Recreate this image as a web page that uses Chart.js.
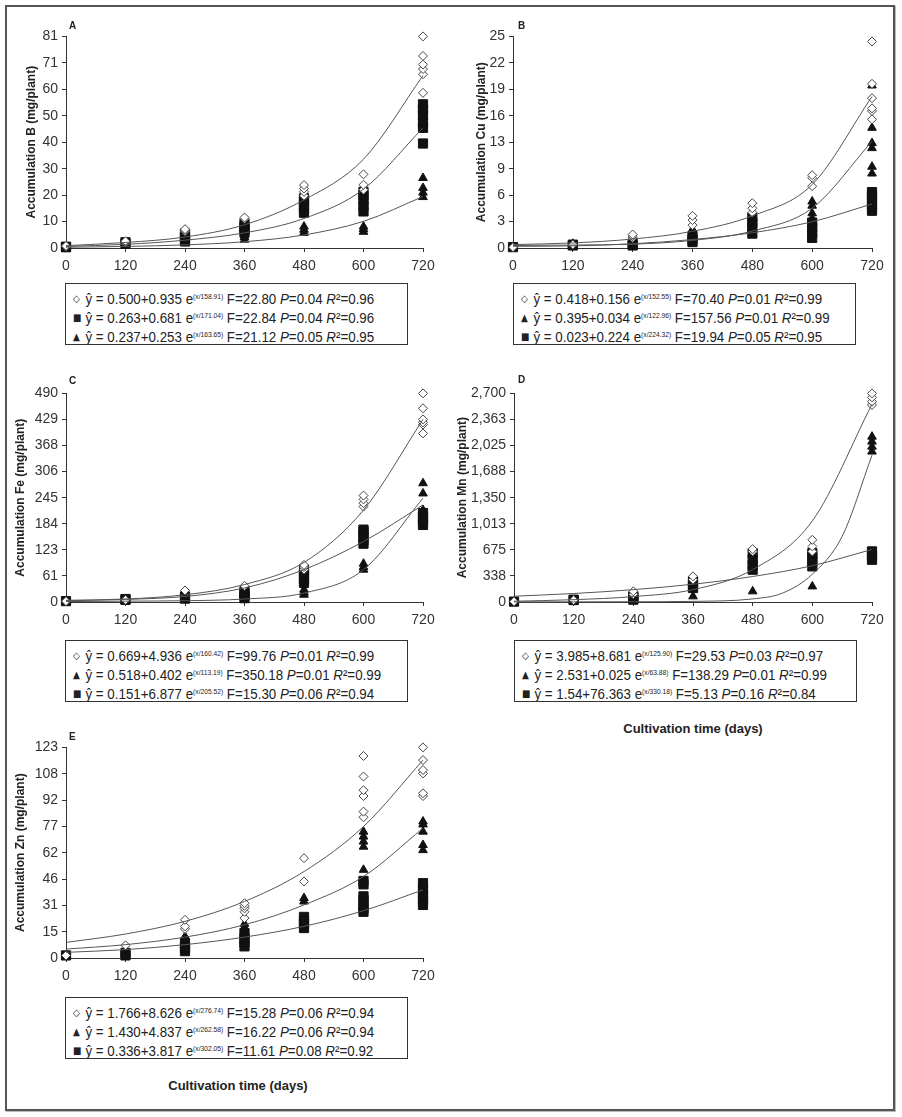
<!DOCTYPE html>
<html lang="en">
<head>
<meta charset="UTF-8">
<title>Micronutrient accumulation</title>
<script src="https://cdn.jsdelivr.net/npm/chart.js"></script>
<style>
  body { margin: 0; background: #fff; }
  #page { position: relative; width: 902px; height: 1117px; overflow: hidden;
          font-family: 'Liberation Sans Narrow', 'Arial Narrow', 'Liberation Sans', Arial, sans-serif; color: #222; }
  .frame { position: absolute; left: 5px; top: 5px; width: 886px; height: 1102px;
           border: 2px solid #555; box-shadow: 1px 1px 0 #bbb; }
  canvas { position: absolute; }
  .tag { position: absolute; font: bold 10px 'Liberation Sans', Arial, sans-serif; }
  .eq { position: absolute; width: 343px; height: 62px; border: 1px solid #333; background: #fff;
        box-sizing: border-box; padding: 4px 0 0 7px; white-space: nowrap; overflow: hidden; }
  .eq .in { transform: scaleX(0.89); transform-origin: 0 0; font-size: 15px; line-height: 17px; }
  .eq sup { font-size: 7.5px; vertical-align: 5px; }
  .eq .m { display: inline-block; width: 14px; font: 10px 'DejaVu Sans', sans-serif; vertical-align: 2px; }
  .xt { position: absolute; font-weight: bold; font-size: 13px; text-align: center; width: 200px; }
</style>
</head>
<body>
<div id="page">
  <div class="frame"></div>
  <canvas id="cA"></canvas><canvas id="cB"></canvas><canvas id="cC"></canvas>
  <canvas id="cD"></canvas><canvas id="cE"></canvas>
  <div class="tag" style="left:69px;top:20px">A</div>
  <div class="tag" style="left:518px;top:20px">B</div>
  <div class="tag" style="left:69px;top:375px">C</div>
  <div class="tag" style="left:518px;top:374px">D</div>
  <div class="tag" style="left:69px;top:731px">E</div>
  <div class="eq" id="eqA" style="left:65px;top:283px"></div>
  <div class="eq" id="eqB" style="left:513px;top:283px"></div>
  <div class="eq" id="eqC" style="left:65px;top:640px"></div>
  <div class="eq" id="eqD" style="left:514px;top:640px"></div>
  <div class="eq" id="eqE" style="left:65px;top:997px"></div>
  <div class="xt" style="left:593px;top:721px">Cultivation time (days)</div>
  <div class="xt" style="left:138px;top:1078px">Cultivation time (days)</div>
</div>
<script>
// sampling days (x axis)
const days = [0, 120, 240, 360, 480, 600, 720];
const daysDense = [0, 120, 240, 360, 480, 540, 600, 660, 720];

// A - Boron: replicate values per day
const bDiamond = [[0.6, 0.8], [2.2, 2.6], [6.3, 6.8, 7.2], [11.2, 11.7], [20, 21.5, 22.8, 24.1], [22.3, 24.2, 28.2], [59.4, 66.5, 68.5, 70.2, 73.5, 81]];
const bSquare = [[0.3, 0.5], [1.6, 2.2], [2.5, 3.5, 4.5, 5.5], [6, 7, 8, 9.3], [13.5, 15, 16.5, 18, 19], [14, 16, 18, 20, 21.5], [40, 46, 48, 51, 53, 55]];
const bTriangle = [[0.2], [1.4], [2.8], [3.2, 4.2, 5], [5.8, 7, 8.2], [6.2, 7.2, 8.2], [19.5, 21.2, 23, 26.8]];
const bFitDiamond = [0.9, 2.1, 4.2, 8.9, 18.4, 34, 66];
const bFitSquare = [0.6, 1.4, 3, 5.8, 11.3, 22.5, 46];
const bFitTriangle = [0.3, 0.6, 1.2, 2.4, 5, 10.2, 19.7];
const bTicks = ['0', '10', '20', '30', '40', '50', '60', '71', '81'];

// B - Copper
const cuDiamond = [[0.1], [0.4], [1.2, 1.4, 1.6], [2.7, 3.3, 3.8], [4.2, 4.7, 5.3], [7.3, 8.3, 8.6], [15.2, 16.2, 16.5, 17.7, 19.4, 24.4]];
const cuTriangle = [[0.1], [0.5], [0.5], [1.6, 2.0, 2.2], [1.8, 2.2], [3.5, 4.1, 5.0, 5.5], [8.8, 9.6, 11.8, 12.4, 14.2, 19.2]];
const cuSquare = [[0.1], [0.3, 0.4], [0.3, 0.5], [0.7, 1.0, 1.4], [1.7, 2.4, 3.0, 3.6], [1.2, 1.8, 2.4, 3.0], [4.4, 5.0, 5.6, 6.2, 6.6]];
const cuFitDiamond = [0.4, 0.6, 1.06, 1.97, 3.8, 7.5, 17.9];
const cuFitTriangle = [0.3, 0.35, 0.45, 0.9, 2.0, 4.7, 12.6];
const cuFitSquare = [0.2, 0.25, 0.5, 1.0, 1.8, 3.1, 5.2];
const cuTicks = ['0', '3', '6', '9', '13', '16', '19', '22', '25'];

// C - Iron
const feDiamond = [[2], [5], [27], [38], [76, 82, 87], [224, 232, 241, 250], [396, 417, 422, 429, 455, 490]];
const feTriangle = [[1], [3], [5], [8], [17, 22, 29], [76, 82, 90], [205, 216, 255, 279]];
const feSquare = [[2], [5, 7], [8, 13], [9, 15, 20, 25], [45, 55, 65, 76], [137, 145, 155, 165, 170], [181, 190, 200, 209]];
const feFitDiamond = [4, 7, 17, 41, 93, 216, 429];
const feFitTriangle = [1, 2, 3, 7, 21, 76, 244];
const feFitSquare = [3, 6, 13, 33, 76, 142, 228];
const feTicks = ['0', '61', '123', '184', '245', '306', '368', '429', '490'];

// D - Manganese
const mnDiamond = [[5], [25], [100, 138], [289, 332], [655, 685], [655, 719, 805], [2550, 2593, 2649, 2700]];
const mnTriangle = [[3], [20], [30], [73], [138], [202], [1947, 2011, 2076, 2140]];
const mnSquare = [[5], [25, 30], [30, 60, 73], [181, 220, 267], [418, 480, 550, 633], [461, 520, 580, 633], [547, 600, 655]];
const mnFitDiamond = [10, 30, 70, 160, 420, 1050, 2560];
const mnFitTriangle = [2, 2, 3, 8, 40, 115, 360, 850, 1900];
const mnFitSquare = [75, 110, 160, 230, 330, 470, 680];
const mnTicks = ['0', '338', '675', '1,013', '1,350', '1,688', '2,025', '2,363', '2,700'];

// E - Zinc
const znDiamond = [[1.5], [7.4], [17, 18.5, 22.3], [23.3, 27, 29, 30.5, 32], [44.7, 58.3], [82.2, 85.5, 94.6, 98, 106, 118], [94.6, 96.2, 107.8, 109.8, 115.6, 123]];
const znTriangle = [[1.2], [5], [10, 12.6], [16.5, 18, 20], [33, 35], [51.5, 65, 68, 70.9, 73.8], [63, 66, 73.8, 78, 79.7]];
const znSquare = [[1.5], [1.5, 3], [4, 6, 8.7], [6.8, 9, 11.5, 14.6], [17.5, 20, 22, 24], [27, 29, 31, 34, 36, 43, 45], [31, 34, 37, 40, 43.7]];
const znFitDiamond = [9.1, 14, 21.4, 33, 50.5, 76.8, 115.6];
const znFitTriangle = [5.2, 7.8, 12.2, 19.4, 31, 47.6, 75.8];
const znFitSquare = [3.3, 4.9, 7.8, 12.2, 18.5, 27.6, 39.8];
const znTicks = ['0', '15', '31', '46', '62', '77', '92', '108', '123'];

// regression equations shown under each panel
const eqA = [
  ['◇', '0.500+0.935', 'x/158.91', '22.80', '0.04', '0.96'],
  ['■', '0.263+0.681', 'x/171.04', '22.84', '0.04', '0.96'],
  ['▲', '0.237+0.253', 'x/163.65', '21.12', '0.05', '0.95']];
const eqB = [
  ['◇', '0.418+0.156', 'x/152.55', '70.40', '0.01', '0.99'],
  ['▲', '0.395+0.034', 'x/122.96', '157.56', '0.01', '0.99'],
  ['■', '0.023+0.224', 'x/224.32', '19.94', '0.05', '0.95']];
const eqC = [
  ['◇', '0.669+4.936', 'x/160.42', '99.76', '0.01', '0.99'],
  ['▲', '0.518+0.402', 'x/113.19', '350.18', '0.01', '0.99'],
  ['■', '0.151+6.877', 'x/205.52', '15.30', '0.06', '0.94']];
const eqD = [
  ['◇', '3.985+8.681', 'x/125.90', '29.53', '0.03', '0.97'],
  ['▲', '2.531+0.025', 'x/63.88', '138.29', '0.01', '0.99'],
  ['■', '1.54+76.363', 'x/330.18', '5.13', '0.16', '0.84']];
const eqE = [
  ['◇', '1.766+8.626', 'x/276.74', '15.28', '0.06', '0.94'],
  ['▲', '1.430+4.837', 'x/262.58', '16.22', '0.06', '0.94'],
  ['■', '0.336+3.817', 'x/302.05', '11.61', '0.08', '0.92']];

const FONT = "'Liberation Sans Narrow', 'Arial Narrow', 'Liberation Sans', Arial, sans-serif";
const PAD_T = 12, PAD_R = 18, X_H = 27;

const markers = {
  diamond: { pointStyle: 'rectRot', pointRadius: 4.5, backgroundColor: '#fff', borderColor: '#444', borderWidth: 1 },
  square: { pointStyle: 'rect', pointRadius: 6.5, backgroundColor: '#111', borderColor: '#111', borderWidth: 1 },
  triangle: { pointStyle: 'triangle', pointRadius: 5, backgroundColor: '#111', borderColor: '#111', borderWidth: 1 }
};

function points(reps) {
  const out = [];
  days.forEach((d, i) => reps[i].forEach(v => out.push({ x: d, y: v })));
  return out;
}

function curve(xs, ys) {
  return xs.map((d, i) => ({ x: d, y: ys[i] }));
}

function panel(id, box, yMax, tickLabels, yTitle, groups) {
  const cv = document.getElementById(id);
  cv.width = box.r - box.l + box.yw + PAD_R;
  cv.height = box.b - box.t + PAD_T + X_H;
  cv.style.left = (box.l - box.yw) + 'px';
  cv.style.top = (box.t - PAD_T) + 'px';

  const datasets = [];
  groups.forEach(g => datasets.push({
    type: 'line', data: curve(g.fx || days, g.fit), showLine: true, pointRadius: 0,
    borderColor: '#555', borderWidth: 1, cubicInterpolationMode: 'monotone', clip: false
  }));
  groups.forEach(g => datasets.push(Object.assign({ data: points(g.pts), clip: false }, markers[g.kind])));

  new Chart(cv, {
    type: 'scatter',
    data: { datasets },
    options: {
      responsive: false,
      animation: false,
      layout: { padding: { top: PAD_T, right: PAD_R, left: 0, bottom: 0 } },
      plugins: { legend: { display: false }, tooltip: { enabled: false } },
      scales: {
        x: {
          min: 0, max: 720,
          afterFit: s => { s.height = X_H; },
          grid: { drawOnChartArea: false, tickLength: 4, color: '#333' },
          border: { color: '#333' },
          ticks: { stepSize: 120, padding: 6, color: '#333', font: { family: FONT, size: 14 } }
        },
        y: {
          min: 0, max: yMax,
          afterFit: s => { s.width = box.yw; },
          afterBuildTicks: s => { s.ticks = tickLabels.map((_, i) => ({ value: i * yMax / 8 })); },
          grid: { drawOnChartArea: false, tickLength: 4, color: '#333' },
          border: { color: '#333' },
          ticks: { padding: 4, color: '#333', font: { family: FONT, size: 14 },
                   callback: (v, i) => tickLabels[i] },
          title: { display: true, text: yTitle, color: '#222', padding: { top: 4, bottom: 0 },
                   font: { family: FONT, size: 12, weight: 'bold' } }
        }
      }
    }
  });
}

function equations(id, rows) {
  document.getElementById(id).innerHTML = '<div class="in">' + rows.map(r =>
    '<div><span class="m">' + r[0] + '</span>ŷ = ' + r[1] + ' e<sup>(' + r[2] + ')</sup> F=' + r[3] +
    ' <i>P</i>=' + r[4] + ' <i>R</i>²=' + r[5] + '</div>').join('') + '</div>';
}

panel('cA', { l: 66, t: 36, r: 423, b: 248, yw: 46 }, 81, bTicks, 'Accumulation B (mg/plant)', [
  { kind: 'diamond', pts: bDiamond, fit: bFitDiamond },
  { kind: 'triangle', pts: bTriangle, fit: bFitTriangle },
  { kind: 'square', pts: bSquare, fit: bFitSquare }]);
panel('cB', { l: 513, t: 36, r: 872, b: 248, yw: 43 }, 25, cuTicks, 'Accumulation Cu (mg/plant)', [
  { kind: 'diamond', pts: cuDiamond, fit: cuFitDiamond },
  { kind: 'triangle', pts: cuTriangle, fit: cuFitTriangle },
  { kind: 'square', pts: cuSquare, fit: cuFitSquare }]);
panel('cC', { l: 66, t: 393, r: 423, b: 602, yw: 57 }, 490, feTicks, 'Accumulation Fe (mg/plant)', [
  { kind: 'diamond', pts: feDiamond, fit: feFitDiamond },
  { kind: 'triangle', pts: feTriangle, fit: feFitTriangle },
  { kind: 'square', pts: feSquare, fit: feFitSquare }]);
panel('cD', { l: 514, t: 393, r: 872, b: 602, yw: 63 }, 2700, mnTicks, 'Accumulation Mn (mg/plant)', [
  { kind: 'diamond', pts: mnDiamond, fit: mnFitDiamond },
  { kind: 'triangle', pts: mnTriangle, fit: mnFitTriangle, fx: daysDense },
  { kind: 'square', pts: mnSquare, fit: mnFitSquare }]);
panel('cE', { l: 66, t: 747, r: 423, b: 958, yw: 57 }, 123, znTicks, 'Accumulation Zn (mg/plant)', [
  { kind: 'diamond', pts: znDiamond, fit: znFitDiamond },
  { kind: 'triangle', pts: znTriangle, fit: znFitTriangle },
  { kind: 'square', pts: znSquare, fit: znFitSquare }]);

equations('eqA', eqA);
equations('eqB', eqB);
equations('eqC', eqC);
equations('eqD', eqD);
equations('eqE', eqE);
</script>
</body>
</html>
